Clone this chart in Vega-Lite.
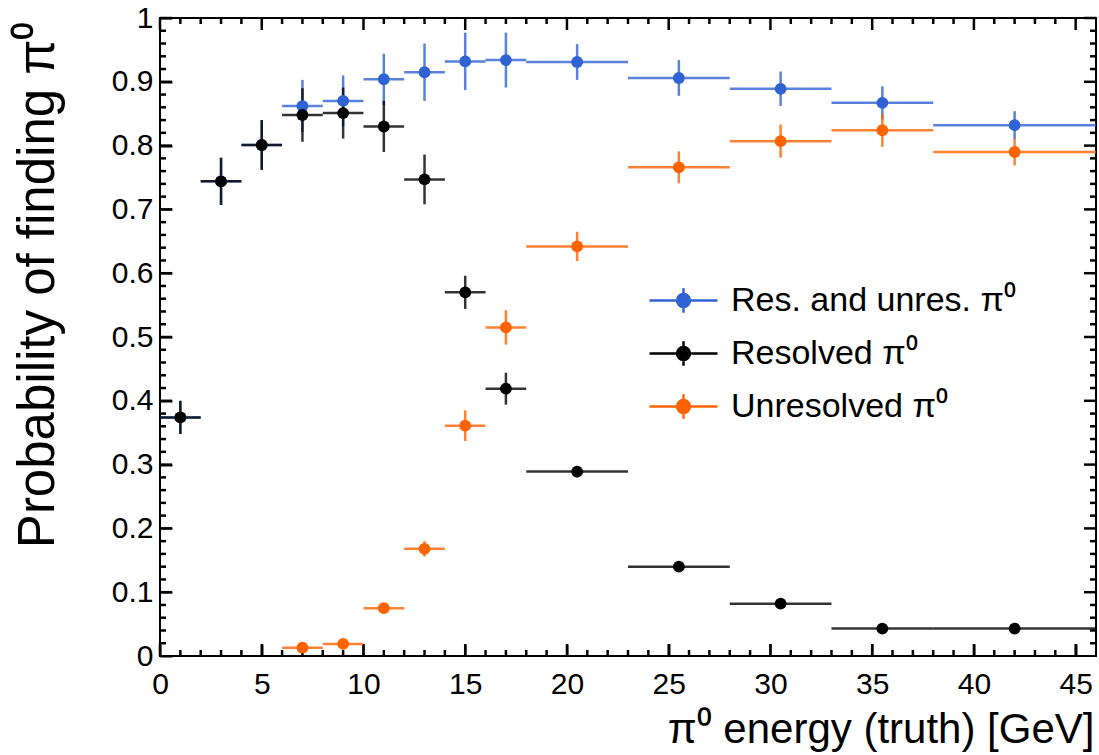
{
  "$schema": "https://vega.github.io/schema/vega-lite/v6.json",
  "width": 936,
  "height": 638,
  "autosize": {"type": "none"},
  "padding": {"left": 160, "top": 18, "right": 3, "bottom": 99},
  "background": "white",
  "config": {
    "font": "Liberation Sans",
    "view": {"stroke": "black", "strokeWidth": 2},
    "axis": {"grid": false, "domain": false, "labelColor": "black", "titleColor": "black", "labelFont": "Liberation Sans", "titleFont": "Liberation Sans", "titleFontWeight": "normal"}
  },
  "datasets": {
    "pts": [
      {"s": "Res. and unres. π⁰", "e": 1, "lo": 0, "hi": 2, "p": 0.374, "pl": 0.348, "ph": 0.400},
      {"s": "Res. and unres. π⁰", "e": 3, "lo": 2, "hi": 4, "p": 0.744, "pl": 0.707, "ph": 0.781},
      {"s": "Res. and unres. π⁰", "e": 5, "lo": 4, "hi": 6, "p": 0.801, "pl": 0.762, "ph": 0.840},
      {"s": "Res. and unres. π⁰", "e": 7, "lo": 6, "hi": 8, "p": 0.862, "pl": 0.821, "ph": 0.903},
      {"s": "Res. and unres. π⁰", "e": 9, "lo": 8, "hi": 10, "p": 0.870, "pl": 0.830, "ph": 0.910},
      {"s": "Res. and unres. π⁰", "e": 11, "lo": 10, "hi": 12, "p": 0.904, "pl": 0.864, "ph": 0.944},
      {"s": "Res. and unres. π⁰", "e": 13, "lo": 12, "hi": 14, "p": 0.915, "pl": 0.870, "ph": 0.960},
      {"s": "Res. and unres. π⁰", "e": 15, "lo": 14, "hi": 16, "p": 0.932, "pl": 0.887, "ph": 0.977},
      {"s": "Res. and unres. π⁰", "e": 17, "lo": 16, "hi": 18, "p": 0.934, "pl": 0.891, "ph": 0.977},
      {"s": "Res. and unres. π⁰", "e": 20.5, "lo": 18, "hi": 23, "p": 0.931, "pl": 0.903, "ph": 0.959},
      {"s": "Res. and unres. π⁰", "e": 25.5, "lo": 23, "hi": 28, "p": 0.906, "pl": 0.878, "ph": 0.934},
      {"s": "Res. and unres. π⁰", "e": 30.5, "lo": 28, "hi": 33, "p": 0.889, "pl": 0.862, "ph": 0.916},
      {"s": "Res. and unres. π⁰", "e": 35.5, "lo": 33, "hi": 38, "p": 0.867, "pl": 0.841, "ph": 0.893},
      {"s": "Res. and unres. π⁰", "e": 42, "lo": 38, "hi": 46, "p": 0.832, "pl": 0.810, "ph": 0.854},
      {"s": "Resolved π⁰", "e": 1, "lo": 0, "hi": 2, "p": 0.374, "pl": 0.348, "ph": 0.400},
      {"s": "Resolved π⁰", "e": 3, "lo": 2, "hi": 4, "p": 0.744, "pl": 0.707, "ph": 0.781},
      {"s": "Resolved π⁰", "e": 5, "lo": 4, "hi": 6, "p": 0.801, "pl": 0.762, "ph": 0.840},
      {"s": "Resolved π⁰", "e": 7, "lo": 6, "hi": 8, "p": 0.848, "pl": 0.806, "ph": 0.890},
      {"s": "Resolved π⁰", "e": 9, "lo": 8, "hi": 10, "p": 0.851, "pl": 0.811, "ph": 0.891},
      {"s": "Resolved π⁰", "e": 11, "lo": 10, "hi": 12, "p": 0.830, "pl": 0.790, "ph": 0.870},
      {"s": "Resolved π⁰", "e": 13, "lo": 12, "hi": 14, "p": 0.747, "pl": 0.708, "ph": 0.786},
      {"s": "Resolved π⁰", "e": 15, "lo": 14, "hi": 16, "p": 0.570, "pl": 0.544, "ph": 0.596},
      {"s": "Resolved π⁰", "e": 17, "lo": 16, "hi": 18, "p": 0.419, "pl": 0.394, "ph": 0.444},
      {"s": "Resolved π⁰", "e": 20.5, "lo": 18, "hi": 23, "p": 0.289, "pl": 0.280, "ph": 0.298},
      {"s": "Resolved π⁰", "e": 25.5, "lo": 23, "hi": 28, "p": 0.140, "pl": 0.133, "ph": 0.147},
      {"s": "Resolved π⁰", "e": 30.5, "lo": 28, "hi": 33, "p": 0.082, "pl": 0.076, "ph": 0.088},
      {"s": "Resolved π⁰", "e": 35.5, "lo": 33, "hi": 38, "p": 0.043, "pl": 0.038, "ph": 0.048},
      {"s": "Resolved π⁰", "e": 42, "lo": 38, "hi": 46, "p": 0.043, "pl": 0.038, "ph": 0.048},
      {"s": "Unresolved π⁰", "e": 7, "lo": 6, "hi": 8, "p": 0.013, "pl": 0.008, "ph": 0.018},
      {"s": "Unresolved π⁰", "e": 9, "lo": 8, "hi": 10, "p": 0.019, "pl": 0.013, "ph": 0.025},
      {"s": "Unresolved π⁰", "e": 11, "lo": 10, "hi": 12, "p": 0.075, "pl": 0.067, "ph": 0.083},
      {"s": "Unresolved π⁰", "e": 13, "lo": 12, "hi": 14, "p": 0.168, "pl": 0.156, "ph": 0.180},
      {"s": "Unresolved π⁰", "e": 15, "lo": 14, "hi": 16, "p": 0.361, "pl": 0.337, "ph": 0.385},
      {"s": "Unresolved π⁰", "e": 17, "lo": 16, "hi": 18, "p": 0.515, "pl": 0.488, "ph": 0.542},
      {"s": "Unresolved π⁰", "e": 20.5, "lo": 18, "hi": 23, "p": 0.642, "pl": 0.619, "ph": 0.665},
      {"s": "Unresolved π⁰", "e": 25.5, "lo": 23, "hi": 28, "p": 0.766, "pl": 0.741, "ph": 0.791},
      {"s": "Unresolved π⁰", "e": 30.5, "lo": 28, "hi": 33, "p": 0.807, "pl": 0.781, "ph": 0.833},
      {"s": "Unresolved π⁰", "e": 35.5, "lo": 33, "hi": 38, "p": 0.824, "pl": 0.798, "ph": 0.850},
      {"s": "Unresolved π⁰", "e": 42, "lo": 38, "hi": 46, "p": 0.790, "pl": 0.769, "ph": 0.811}
    ],
    "xmaj": [{"t": 0}, {"t": 5}, {"t": 10}, {"t": 15}, {"t": 20}, {"t": 25}, {"t": 30}, {"t": 35}, {"t": 40}, {"t": 45}],
    "xmin": [{"t": 1}, {"t": 2}, {"t": 3}, {"t": 4}, {"t": 6}, {"t": 7}, {"t": 8}, {"t": 9}, {"t": 11}, {"t": 12}, {"t": 13}, {"t": 14}, {"t": 16}, {"t": 17}, {"t": 18}, {"t": 19}, {"t": 21}, {"t": 22}, {"t": 23}, {"t": 24}, {"t": 26}, {"t": 27}, {"t": 28}, {"t": 29}, {"t": 31}, {"t": 32}, {"t": 33}, {"t": 34}, {"t": 36}, {"t": 37}, {"t": 38}, {"t": 39}, {"t": 41}, {"t": 42}, {"t": 43}, {"t": 44}],
    "ymaj": [{"t": 0.1}, {"t": 0.2}, {"t": 0.3}, {"t": 0.4}, {"t": 0.5}, {"t": 0.6}, {"t": 0.7}, {"t": 0.8}, {"t": 0.9}, {"t": 1}],
    "ymin": [{"t": 0.02}, {"t": 0.04}, {"t": 0.06}, {"t": 0.08}, {"t": 0.12}, {"t": 0.14}, {"t": 0.16}, {"t": 0.18}, {"t": 0.22}, {"t": 0.24}, {"t": 0.26}, {"t": 0.28}, {"t": 0.32}, {"t": 0.34}, {"t": 0.36}, {"t": 0.38}, {"t": 0.42}, {"t": 0.44}, {"t": 0.46}, {"t": 0.48}, {"t": 0.52}, {"t": 0.54}, {"t": 0.56}, {"t": 0.58}, {"t": 0.62}, {"t": 0.64}, {"t": 0.66}, {"t": 0.68}, {"t": 0.72}, {"t": 0.74}, {"t": 0.76}, {"t": 0.78}, {"t": 0.82}, {"t": 0.84}, {"t": 0.86}, {"t": 0.88}, {"t": 0.92}, {"t": 0.94}, {"t": 0.96}, {"t": 0.98}]
  },
  "data": {"name": "pts"},
  "layer": [
    {
      "data": {"name": "xmaj"},
      "mark": {"type": "rule", "color": "black", "strokeWidth": 2.5, "opacity": 1},
      "encoding": {
        "x": {"field": "t", "type": "quantitative", "scale": {"domain": [0, 46], "nice": false, "zero": false},
          "axis": {"orient": "bottom", "values": [0, 5, 10, 15, 20, 25, 30, 35, 40, 45], "ticks": true, "tickSize": -12, "tickColor": "black", "tickWidth": 2, "labelPadding": 25, "labelFontSize": 30, "labelFlush": false, "labelOverlap": false,
            "title": "π⁰ energy (truth) [GeV]", "titleFontSize": 42, "titleAnchor": "end", "titleAlign": "right", "titleBaseline": "alphabetic", "titleX": 934, "titleY": 86}},
        "y": {"datum": 0, "type": "quantitative", "scale": {"domain": [0, 1], "nice": false},
          "axis": {"orient": "left", "values": [0, 0.1, 0.2, 0.3, 0.4, 0.5, 0.6, 0.7, 0.8, 0.9, 1], "format": "~g", "ticks": true, "tickSize": -12, "tickColor": "black", "tickWidth": 2, "labelPadding": 19, "labelFontSize": 30, "labelFlush": false, "labelOverlap": false,
            "title": "Probability of finding π⁰", "titleFontSize": 51, "titleAngle": -90, "titleAlign": "right", "titleBaseline": "alphabetic", "titleX": -107, "titleY": 3}},
        "y2": {"datum": 0.0188}
      }
    },
    {
      "data": {"name": "xmaj"},
      "mark": {"type": "rule", "color": "black", "strokeWidth": 2.5, "opacity": 1},
      "encoding": {"x": {"field": "t", "type": "quantitative"}, "y": {"datum": 1, "type": "quantitative"}, "y2": {"datum": 0.9812}}
    },
    {
      "data": {"name": "xmin"},
      "mark": {"type": "rule", "color": "black", "strokeWidth": 2.5, "opacity": 1},
      "encoding": {"x": {"field": "t", "type": "quantitative"}, "y": {"datum": 0, "type": "quantitative"}, "y2": {"datum": 0.0094}}
    },
    {
      "data": {"name": "xmin"},
      "mark": {"type": "rule", "color": "black", "strokeWidth": 2.5, "opacity": 1},
      "encoding": {"x": {"field": "t", "type": "quantitative"}, "y": {"datum": 1, "type": "quantitative"}, "y2": {"datum": 0.9906}}
    },
    {
      "data": {"name": "ymaj"},
      "mark": {"type": "rule", "color": "black", "strokeWidth": 2.5, "opacity": 1},
      "encoding": {"y": {"field": "t", "type": "quantitative"}, "x": {"datum": 0, "type": "quantitative"}, "x2": {"datum": 0.59}}
    },
    {
      "data": {"name": "ymaj"},
      "mark": {"type": "rule", "color": "black", "strokeWidth": 2.5, "opacity": 1},
      "encoding": {"y": {"field": "t", "type": "quantitative"}, "x": {"datum": 46, "type": "quantitative"}, "x2": {"datum": 45.41}}
    },
    {
      "data": {"name": "ymin"},
      "mark": {"type": "rule", "color": "black", "strokeWidth": 2.5, "opacity": 1},
      "encoding": {"y": {"field": "t", "type": "quantitative"}, "x": {"datum": 0, "type": "quantitative"}, "x2": {"datum": 0.295}}
    },
    {
      "data": {"name": "ymin"},
      "mark": {"type": "rule", "color": "black", "strokeWidth": 2.5, "opacity": 1},
      "encoding": {"y": {"field": "t", "type": "quantitative"}, "x": {"datum": 46, "type": "quantitative"}, "x2": {"datum": 45.705}}
    },
    {
      "mark": {"type": "rule", "strokeWidth": 2.5, "opacity": 0.8},
      "encoding": {
        "x": {"field": "lo", "type": "quantitative"},
        "x2": {"field": "hi"},
        "y": {"field": "p", "type": "quantitative"},
        "color": {"field": "s", "type": "nominal",
          "scale": {"domain": ["Res. and unres. π⁰", "Resolved π⁰", "Unresolved π⁰"], "range": ["#2f63d3", "#000000", "#ff6300"]},
          "legend": {"orient": "none", "legendX": 488, "legendY": 247, "title": null, "labelFontSize": 34, "labelLimit": 500, "labelFont": "Liberation Sans", "labelColor": "black", "labelOffset": 12, "rowPadding": -20,
            "symbolType": "M-1,0H1M0,-0.36V0.36M-0.19,0A0.19,0.19 0 1,0 0.19,0A0.19,0.19 0 1,0 -0.19,0Z", "symbolSize": 4624, "symbolStrokeWidth": 2.5, "symbolOpacity": 1,
            "encode": {"symbols": {"update": {"stroke": {"scale": "color", "field": "value"}, "fill": {"scale": "color", "field": "value"}, "opacity": {"value": 1}}}}}}
      }
    },
    {
      "mark": {"type": "rule", "strokeWidth": 2.5, "opacity": 0.8},
      "encoding": {
        "x": {"field": "e", "type": "quantitative"},
        "y": {"field": "pl", "type": "quantitative"},
        "y2": {"field": "ph"},
        "color": {"field": "s", "type": "nominal"}
      }
    },
    {
      "mark": {"type": "point", "filled": true, "opacity": 1, "size": 140},
      "encoding": {
        "x": {"field": "e", "type": "quantitative"},
        "y": {"field": "p", "type": "quantitative"},
        "color": {"field": "s", "type": "nominal"}
      }
    }
  ]
}
